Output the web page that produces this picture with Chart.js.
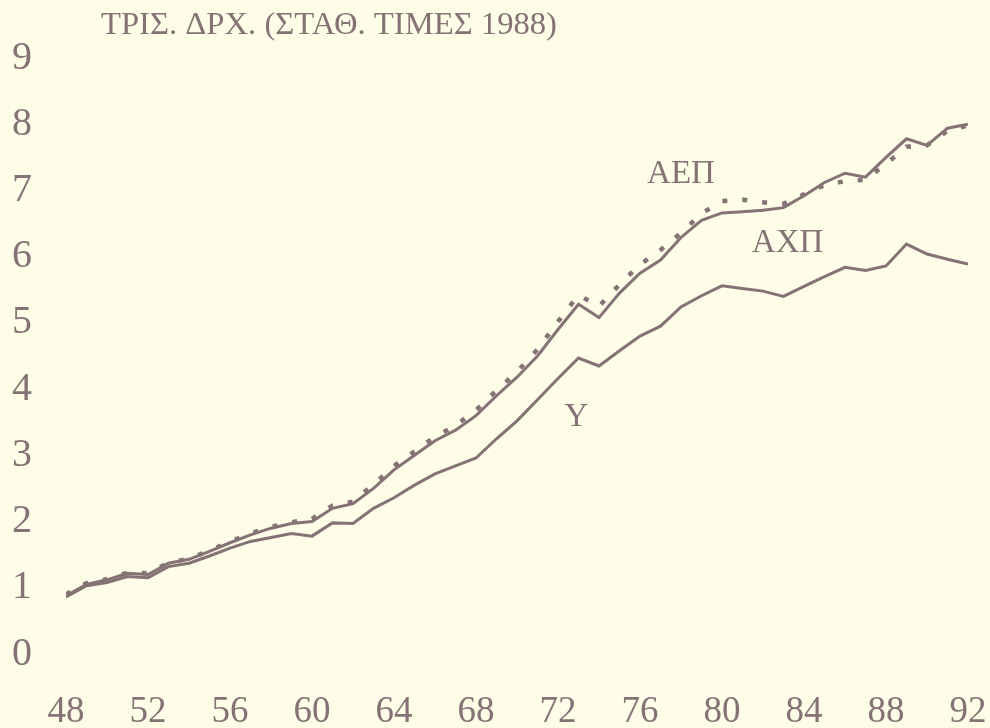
<!DOCTYPE html>
<html>
<head>
<meta charset="utf-8">
<script src="https://cdn.jsdelivr.net/npm/chart.js@4"></script>
<style>
  html, body { margin: 0; padding: 0; background: #fefde8; overflow: hidden; }
  #wrap { width: 990px; height: 728px; }
  canvas { display: block; }
</style>
</head>
<body>
<div id="wrap"><canvas id="chart"></canvas></div>
<script>
// years 1948 - 1992
const years = [];
for (let y = 48; y <= 92; y++) years.push(y);

// ΑΧΠ (upper solid line)
const axp = [0.88, 1.05, 1.12, 1.22, 1.20, 1.37, 1.43, 1.55, 1.68, 1.80,
  1.90, 1.97, 2.00, 2.20, 2.27, 2.50, 2.78, 3.00, 3.22, 3.38,
  3.60, 3.90, 4.18, 4.50, 4.90, 5.28, 5.08, 5.45, 5.75, 5.95,
  6.29, 6.55, 6.66, 6.68, 6.70, 6.74, 6.92, 7.12, 7.26, 7.20,
  7.50, 7.78, 7.68, 7.94, 8.00];

// ΑΕΠ (dashed line)
const aep = [0.90, 1.07, 1.13, 1.23, 1.22, 1.38, 1.44, 1.56, 1.70, 1.82,
  1.92, 1.99, 2.04, 2.24, 2.30, 2.56, 2.84, 3.06, 3.28, 3.45,
  3.68, 3.98, 4.26, 4.60, 5.02, 5.42, 5.25, 5.58, 5.88, 6.10,
  6.36, 6.65, 6.84, 6.86, 6.82, 6.80, 6.94, 7.08, 7.14, 7.16,
  7.40, 7.66, 7.68, 7.90, 7.98];

// Y (lower solid line)
const yinc = [0.86, 1.03, 1.08, 1.17, 1.15, 1.32, 1.37, 1.48, 1.60, 1.70,
  1.76, 1.82, 1.78, 1.98, 1.97, 2.20, 2.36, 2.55, 2.72, 2.84,
  2.96, 3.25, 3.52, 3.84, 4.16, 4.47, 4.35, 4.58, 4.80, 4.95,
  5.24, 5.41, 5.56, 5.52, 5.48, 5.40, 5.55, 5.70, 5.84, 5.79,
  5.86, 6.19, 6.04, 5.96, 5.89];

const xTicks = [48, 52, 56, 60, 64, 68, 72, 76, 80, 84, 88, 92];
const yTicks = [0, 1, 2, 3, 4, 5, 6, 7, 8, 9];

const title = 'ΤΡΙΣ. ΔΡΧ. (ΣΤΑΘ. ΤΙΜΕΣ 1988)';
// label text and the (year, value) it sits at
const lineLabels = [
  { text: 'ΑΕΠ', x: 78.0, y: 7.25 },
  { text: 'ΑΧΠ', x: 83.2, y: 6.2 },
  { text: 'Υ', x: 72.9, y: 3.57 }
];

const ink = '#857274';
const font = '"Liberation Serif", "DejaVu Serif", serif';

const textPlugin = {
  id: 'texts',
  afterDraw(chart) {
    const ctx = chart.ctx;
    const xs = chart.scales.x, ys = chart.scales.y;
    ctx.save();
    ctx.fillStyle = ink;
    // title, squeezed a little like the printed face
    ctx.font = '32px ' + font;
    ctx.textBaseline = 'alphabetic';
    ctx.textAlign = 'left';
    const w = ctx.measureText(title).width;
    ctx.save();
    ctx.translate(101, 34);
    ctx.scale(456 / w, 1);
    ctx.fillText(title, 0, 0);
    ctx.restore();

    ctx.font = '33px ' + font;
    ctx.textAlign = 'center';
    ctx.textBaseline = 'middle';
    lineLabels.forEach((l) => {
      ctx.fillText(l.text, xs.getPixelForValue(l.x), ys.getPixelForValue(l.y));
    });
    ctx.restore();
  }
};

const bgPlugin = {
  id: 'bg',
  beforeDraw(chart) {
    const ctx = chart.ctx;
    ctx.save();
    ctx.fillStyle = '#fefde8';
    ctx.fillRect(0, 0, chart.width, chart.height);
    ctx.restore();
  }
};

const ctx = document.getElementById('chart');
new Chart(ctx, {
  type: 'line',
  data: {
    labels: years,
    datasets: [
      {
        label: 'ΑΕΠ',
        data: years.map((yr, i) => ({ x: yr, y: aep[i] })),
        borderColor: ink,
        borderWidth: 4.5,
        borderDash: [5, 15],
        pointRadius: 0,
        tension: 0
      },
      {
        label: 'ΑΧΠ',
        data: years.map((yr, i) => ({ x: yr, y: axp[i] })),
        borderColor: ink,
        borderWidth: 3,
        pointRadius: 0,
        tension: 0
      },
      {
        label: 'Υ',
        data: years.map((yr, i) => ({ x: yr, y: yinc[i] })),
        borderColor: ink,
        borderWidth: 3,
        pointRadius: 0,
        tension: 0
      }
    ]
  },
  options: {
    responsive: true,
    maintainAspectRatio: false,
    animation: false,
    layout: { padding: { top: 52, right: 22, left: 0, bottom: 0 } },
    plugins: {
      legend: { display: false },
      tooltip: { enabled: false }
    },
    scales: {
      x: {
        type: 'linear',
        min: 48,
        max: 92,
        grid: { display: false, drawTicks: false },
        border: { display: false },
        afterBuildTicks(scale) {
          scale.ticks = xTicks.map((v) => ({ value: v }));
        },
        afterFit(scale) {
          scale.height = 74;
          scale.paddingLeft = 0;
          scale.paddingRight = 0;
        },
        ticks: {
          color: ink,
          font: { family: font, size: 37 },
          padding: 36,
          maxRotation: 0,
          autoSkip: false
        }
      },
      y: {
        min: 0,
        max: 9,
        grid: { display: false, drawTicks: false },
        border: { display: false },
        afterBuildTicks(scale) {
          scale.ticks = yTicks.map((v) => ({ value: v }));
        },
        afterFit(scale) { scale.width = 66; },
        ticks: {
          color: ink,
          font: { family: font, size: 40 },
          padding: 34
        }
      }
    }
  },
  plugins: [bgPlugin, textPlugin]
});
</script>
</body>
</html>
